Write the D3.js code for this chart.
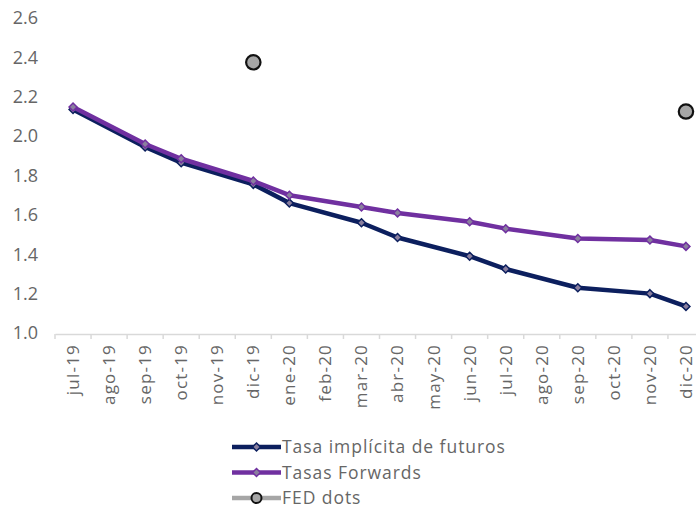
<!DOCTYPE html>
<html>
<head>
<meta charset="utf-8">
<script src="https://cdn.jsdelivr.net/npm/d3@7.9.0/dist/d3.min.js"></script>
<style>
  body { margin: 0; background: #fff; }
  svg { display: block; font-family: "Open Sans", sans-serif; }
</style>
</head>
<body>
<svg width="696" height="510"></svg>
<script>
const months = ['jul-19', 'ago-19', 'sep-19', 'oct-19', 'nov-19', 'dic-19', 'ene-20', 'feb-20', 'mar-20',
  'abr-20', 'may-20', 'jun-20', 'jul-20', 'ago-20', 'sep-20', 'oct-20', 'nov-20', 'dic-20'];
const futuros = [2.135, null, 1.945, 1.865, null, 1.755, 1.66, null, 1.56, 1.485, null, 1.39, 1.325, null, 1.23, null, 1.2, 1.135];
const forwards = [2.148, null, 1.96, 1.885, null, 1.772, 1.70, null, 1.64, 1.61, null, 1.565, 1.53, null, 1.48, null, 1.472, 1.44];
const fedDots = [null, null, null, null, null, 2.375, null, null, null, null, null, null, null, null, null, null, null, 2.125];
const yTicks = [1.0, 1.2, 1.4, 1.6, 1.8, 2.0, 2.2, 2.4, 2.6];

const svg = d3.select('svg');
const x = d3.scaleBand().domain(months).range([55, 704]);
const y = d3.scaleLinear().domain([1.0, 2.6]).range([333, 18]);
const cx = (m) => x(m) + x.bandwidth() / 2;

// y labels (no axis line)
svg.append('g')
  .selectAll('text')
  .data(yTicks)
  .join('text')
  .attr('x', 38)
  .attr('y', (d) => y(d))
  .attr('dy', '0.35em')
  .attr('text-anchor', 'end')
  .attr('fill', '#666')
  .attr('font-size', 18)
  .text((d) => d.toFixed(1));

// x axis
const xAxis = svg.append('g').attr('transform', `translate(0,${y(1.0) + 1})`)
  .call(d3.axisBottom(x).tickSize(0));
xAxis.select('.domain').attr('stroke', '#d9d9d9').attr('stroke-width', 1.5);
xAxis.selectAll('.tick text')
  .attr('transform', 'rotate(-90)')
  .attr('text-anchor', 'end')
  .attr('x', -10)
  .attr('y', 0)
  .attr('dy', '0.35em')
  .attr('fill', '#666')
  .attr('font-size', 17)
  .attr('letter-spacing', 1.2)
  .attr('font-family', '"Open Sans", sans-serif');
xAxis.selectAll('.bound')
  .data(months.concat(['_end']))
  .join('line')
  .attr('x1', (d, i) => i < months.length ? x(d) : x.range()[1])
  .attr('x2', (d, i) => i < months.length ? x(d) : x.range()[1])
  .attr('y1', 0).attr('y2', 5)
  .attr('stroke', '#d9d9d9').attr('stroke-width', 1.5);

function drawSeries(values, color) {
  const pts = months.map((m, i) => ({ m, v: values[i] })).filter((d) => d.v != null);
  const line = d3.line().x((d) => cx(d.m)).y((d) => y(d.v));
  svg.append('path')
    .datum(pts)
    .attr('d', line)
    .attr('fill', 'none')
    .attr('stroke', color)
    .attr('stroke-width', 4.5)
    .attr('stroke-linejoin', 'round');
  svg.append('g')
    .selectAll('path')
    .data(pts)
    .join('path')
    .attr('transform', (d) => `translate(${cx(d.m)},${y(d.v)})`)
    .attr('d', d3.symbol(d3.symbolDiamond2, 40)())
    .attr('fill', '#8a7f9e')
    .attr('stroke', color)
    .attr('stroke-width', 1.5);
}

drawSeries(futuros, '#0c1f5e');
drawSeries(forwards, '#7030a0');

const dots = months.map((m, i) => ({ m, v: fedDots[i] })).filter((d) => d.v != null);
svg.append('g')
  .selectAll('circle')
  .data(dots)
  .join('circle')
  .attr('cx', (d) => cx(d.m))
  .attr('cy', (d) => y(d.v))
  .attr('r', 7.2)
  .attr('fill', '#a6a6a6')
  .attr('stroke', '#111')
  .attr('stroke-width', 2.2);

// legend
const legendItems = [
  { label: 'Tasa implícita de futuros', color: '#0c1f5e', mark: 'diamond' },
  { label: 'Tasas Forwards', color: '#7030a0', mark: 'diamond' },
  { label: 'FED dots', color: '#a6a6a6', mark: 'circle' }
];
const lg = svg.append('g')
  .selectAll('g')
  .data(legendItems)
  .join('g')
  .attr('transform', (d, i) => `translate(232,${447 + i * 25.5})`);
lg.append('line')
  .attr('x1', 0).attr('x2', 49)
  .attr('stroke', (d) => d.color)
  .attr('stroke-width', 4.5);
lg.filter((d) => d.mark === 'diamond').append('path')
  .attr('transform', 'translate(24.5,0)')
  .attr('d', d3.symbol(d3.symbolDiamond2, 40)())
  .attr('fill', '#8a7f9e')
  .attr('stroke', (d) => d.color)
  .attr('stroke-width', 1.5);
lg.filter((d) => d.mark === 'circle').append('circle')
  .attr('cx', 24.5)
  .attr('r', 5)
  .attr('fill', '#a6a6a6')
  .attr('stroke', '#111')
  .attr('stroke-width', 2);
lg.append('text')
  .attr('x', 50)
  .attr('dy', '0.35em')
  .attr('fill', '#666')
  .attr('font-size', 17.5)
  .attr('letter-spacing', 0.95)
  .text((d) => d.label);
</script>
</body>
</html>
